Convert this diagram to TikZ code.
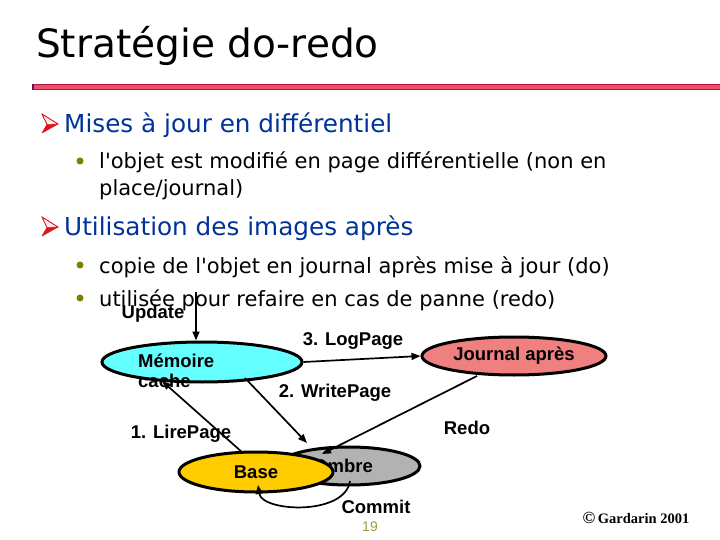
\documentclass[tikz,border=0pt]{standalone}
\usepackage{fontspec}
\setmainfont{DejaVu Sans}[Ligatures=TeXOff]
\newfontfamily\arialf{Liberation Sans}
\newfontfamily\timesf{Liberation Serif}
\usetikzlibrary{arrows.meta,shapes.geometric,calc}
\definecolor{headblue}{RGB}{0,51,153}
\definecolor{dotolive}{RGB}{128,128,0}
\definecolor{pagecol}{RGB}{160,155,60}
\definecolor{rulepink}{RGB}{238,78,110}
\definecolor{rulered}{RGB}{185,20,60}
\definecolor{rulepurple}{RGB}{90,20,90}
\definecolor{arrred}{RGB}{220,20,30}
\definecolor{arrpink}{RGB}{255,235,235}
\definecolor{cyanf}{RGB}{102,255,255}
\definecolor{pinkf}{RGB}{240,128,128}
\definecolor{goldf}{RGB}{255,204,0}
\definecolor{grayf}{RGB}{178,178,178}
\tikzset{
  pics/harrow/.style={code={
    \fill[arrred] (5,10.5) -- (16,10) -- (0,19) -- cycle;
    \draw[arrred, line width=0.6pt, fill=arrpink] (0,0) -- (16,10) -- (5,10.5) -- cycle;
    \draw[arrred, line width=0.6pt, line join=round] (0,0) -- (16,10) -- (0,19) -- (5,10.5) -- cycle;
  }}
}
\begin{document}
\begin{tikzpicture}[x=1pt,y=-1pt,
  titletext/.style={anchor=base west, inner sep=0, font=\fontsize{39}{39}\selectfont},
  headtext/.style={anchor=base west, inner sep=0, text=headblue, font=\fontsize{24.7}{26}\selectfont},
  bodytext/.style={anchor=base west, inner sep=0, font=\fontsize{21}{22}\selectfont},
  lab/.style={inner sep=0, font=\arialf\bfseries\fontsize{18.5}{20}\selectfont},
  ell/.style={ellipse, draw=black, line width=3pt, inner sep=0},
  conn/.style={line width=1.7pt, -{Triangle[length=9pt,width=7pt]}}]
\useasboundingbox (0,0) rectangle (720,540);
\fill[white] (0,0) rectangle (720,540);

% title and rule
\node[titletext] (title) at (36,58) {Stratégie do-redo};
\draw[rulered, fill=rulepink, line width=0.8pt] (32,84.5) rectangle (720,89.5);
\fill[rulepurple] (32,84.1) rectangle (34,89.9);

% bullets
\pic at (42,114) {harrow};
\node[headtext] (h1) at (64,133) {Mises à jour en différentiel};
\fill[dotolive] (80,161) circle (3.5);
\node[bodytext] (b1) at (99,169) {l'objet est modifié en page différentielle (non en};
\node[bodytext] (b1b) at (99,196) {place/journal)};
\pic at (42,217) {harrow};
\node[headtext] (h2) at (64,236) {Utilisation des images après};
\fill[dotolive] (80,265) circle (3.5);
\node[bodytext] (b2) at (99,273) {copie de l'objet en journal après mise à jour (do)};
\fill[dotolive] (80,298) circle (3.5);
\node[bodytext] (b3) at (99,306) {utilisée pour refaire en cas de panne (redo)};

% diagram
\node[ell, fill=cyanf, minimum width=200pt, minimum height=40pt] (mem) at (202,362) {};
\node[lab, anchor=west, align=left] (memt) at (138,371) {Mémoire\\cache};
\node[ell, fill=pinkf, minimum width=184pt, minimum height=38pt, font=\arialf\bfseries\fontsize{18.5}{20}\selectfont] (jour) at (514,356) {Journal après};
\node[ell, fill=grayf, minimum width=142pt, minimum height=38pt] (ombre) at (349,466) {};
\node[lab] (ombret) at (343,466) {Ombre};
\node[ell, fill=goldf, minimum width=154pt, minimum height=40pt, font=\arialf\bfseries\fontsize{18.5}{20}\selectfont] (base) at (256,472) {Base};

\node[lab] (upd) at (153,314) {Update};
\node[lab] (logp) at (353,341) {3. LogPage};
\node[lab] (writep) at (335,393) {2. WritePage};
\node[lab] (redo) at (467,428) {Redo};
\node[lab] (lirep) at (181,434) {1. LirePage};
\node[lab] (commit) at (376,507) {Commit};
\node[inner sep=0, text=pagecol, font=\arialf\fontsize{14}{14}\selectfont] (pnum) at (370,527) {19};
\node[inner sep=0, font=\timesf\bfseries\fontsize{14.5}{15}\selectfont] (copy) at (636,518) {{\fontsize{17}{15}\selectfont\textcopyright}\,Gardarin 2001};

% connectors
\coordinate (updtop) at (196,292);
\draw[conn] (updtop) -- (updtop |- mem.north);
\draw[conn] (mem.east) -- (jour.west);
\draw[conn] ($(mem.center)+(43,16)$) -- ($(ombre.center)+(-42,-23)$);
\draw[conn] ($(jour.center)+(-37,20)$) -- ($(ombre.center)+(-27,-12)$);
\draw[conn] ($(base.center)+(-13,-19)$) -- ($(mem.center)+(-40,19)$);
\draw[conn] ($(ombre.center)+(1,15)$) .. controls ($(ombre.center)+(-4,50)$) and ($(base.center)+(6,40)$) .. ($(base.center)+(2,13)$);
\end{tikzpicture}
\end{document}
